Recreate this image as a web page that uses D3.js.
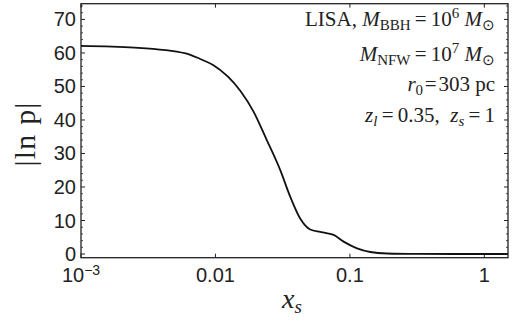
<!DOCTYPE html>
<html>
<head>
<meta charset="utf-8">
<script src="https://cdn.jsdelivr.net/npm/d3@7"></script>
<style>
  html, body { margin: 0; padding: 0; background: #fff; }
  svg { display: block; }
</style>
</head>
<body>
<svg id="chart" width="516" height="324"></svg>
<script>
// ---- data ----
const xs = [0.001, 0.0025, 0.006, 0.0077, 0.0096, 0.0153, 0.0192, 0.0241, 0.0303, 0.036, 0.0428, 0.0507, 0.0602, 0.0656, 0.0757, 0.0898, 0.113, 0.142, 0.189, 0.316, 0.6, 1.0, 1.5];
const lnp = [62.1, 61.6, 59.9, 58.2, 56.4, 48.7, 42.5, 34.0, 25.1, 17.1, 10.5, 7.3, 6.6, 6.3, 5.7, 3.7, 1.7, 0.6, 0.15, 0.02, 0, 0, 0];
const xTickValues = [0.001, 0.01, 0.1, 1];
const xTickLabels = ["10^-3", "0.01", "0.1", "1"];
const yTickValues = [0, 10, 20, 30, 40, 50, 60, 70];
const yMinorValues = d3.range(0, 75, 2);

// ---- layout ----
const L = 81, R = 508, T = 3.7, B = 257.7;
const svg = d3.select("#chart");
const x = d3.scaleLog().domain([0.001, 1.5]).range([L, R]);
const y = d3.scaleLinear().domain([-1.1, 74.7]).range([B, T]);
const ink = "#222";
const sans = "'Liberation Sans', Arial, sans-serif";
const serif = "'Liberation Serif', 'Times New Roman', serif";

// curve
const line = d3.line().x((d, i) => x(xs[i])).y(d => y(d)).curve(d3.curveMonotoneX);
svg.append("path").datum(lnp).attr("d", line)
  .attr("fill", "none").attr("stroke", "#111").attr("stroke-width", 1.8);

// frame
svg.append("rect").attr("x", L).attr("y", T).attr("width", R - L).attr("height", B - T)
  .attr("fill", "none").attr("stroke", ink).attr("stroke-width", 1.3);

// ticks (inside, all sides)
const g = svg.append("g").attr("stroke", ink);
yTickValues.forEach(v => {
  g.append("line").attr("x1", L).attr("x2", L + 4).attr("y1", y(v)).attr("y2", y(v)).attr("stroke-width", 1);
  g.append("line").attr("x1", R).attr("x2", R - 4).attr("y1", y(v)).attr("y2", y(v)).attr("stroke-width", 1);
});
yMinorValues.filter(v => v % 10 !== 0).forEach(v => {
  g.append("line").attr("x1", L).attr("x2", L + 2).attr("y1", y(v)).attr("y2", y(v)).attr("stroke-width", 0.8);
  g.append("line").attr("x1", R).attr("x2", R - 2).attr("y1", y(v)).attr("y2", y(v)).attr("stroke-width", 0.8);
});
xTickValues.forEach(v => {
  g.append("line").attr("x1", x(v)).attr("x2", x(v)).attr("y1", B).attr("y2", B - 4).attr("stroke-width", 1);
  g.append("line").attr("x1", x(v)).attr("x2", x(v)).attr("y1", T).attr("y2", T + 4).attr("stroke-width", 1);
});

// y tick labels
svg.append("g").selectAll("text").data(yTickValues).join("text")
  .attr("x", 76).attr("y", d => y(d) + 7)
  .attr("text-anchor", "end").attr("font-family", sans).attr("font-size", 20)
  .attr("fill", ink).text(d => d);

// x tick labels
xTickValues.forEach((v, i) => {
  const t = svg.append("text").attr("x", x(v)).attr("y", 282)
    .attr("text-anchor", "middle").attr("font-family", sans).attr("font-size", 20).attr("fill", ink);
  const lab = xTickLabels[i];
  if (lab.includes("^")) {
    const [b, e] = lab.split("^");
    t.append("tspan").text(b);
    t.append("tspan").attr("dy", -7).attr("font-size", 14).text(e.replace("-", "\u2212"));
  } else t.text(lab);
});

// axis titles
svg.append("text").attr("transform", "translate(35,134) rotate(-90)")
  .attr("text-anchor", "middle").attr("font-family", serif).attr("font-size", 30)
  .attr("letter-spacing", 1.2).attr("fill", ink).text("|ln p|");
const xt = svg.append("text").attr("x", 292).attr("y", 308).attr("text-anchor", "middle")
  .attr("font-family", serif).attr("font-size", 28).attr("fill", ink);
xt.append("tspan").attr("font-style", "italic").text("x");
xt.append("tspan").attr("font-style", "italic").attr("font-size", 19).attr("dy", 5).text("s");

// annotation
const ann = [
  [["LISA, ", 0, 0], ["M", 1, 0], ["BBH", 0, -1], ["\u2009=\u200910", 0, 0], ["6", 0, 1], [" ", 0, 0], ["M", 1, 0], ["\u2299", 0, -1]],
  [["M", 1, 0], ["NFW", 0, -1], ["\u2009=\u200910", 0, 0], ["7", 0, 1], [" ", 0, 0], ["M", 1, 0], ["\u2299", 0, -1]],
  [["r", 1, 0], ["0", 0, -1], ["\u200A=\u200A303 pc", 0, 0]],
  [["z", 1, 0], ["l", 1, -1], ["\u2009=\u20090.35,\u2002", 0, 0], ["z", 1, 0], ["s", 1, -1], ["\u2009=\u20091", 0, 0]]
];
const baselines = [26, 61, 91, 122];
ann.forEach((parts, li) => {
  const t = svg.append("text").attr("x", 495).attr("y", baselines[li]).attr("text-anchor", "end")
    .attr("font-family", serif).attr("font-size", 21).attr("fill", ink).attr("xml:space", "preserve");
  let cur = 0;
  parts.forEach(([s, it, pos]) => {
    const target = pos === -1 ? 4 : pos === 1 ? -8 : 0;
    const ts = t.append("tspan").attr("dy", target - cur).text(s);
    cur = target;
    if (it) ts.attr("font-style", "italic");
    if (pos !== 0) ts.attr("font-size", 15);
  });
});
</script>
</body>
</html>
